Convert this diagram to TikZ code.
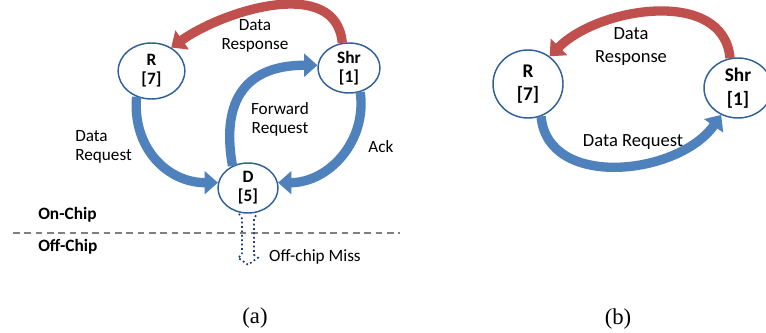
\documentclass[tikz,border=0pt]{standalone}
\usepackage{fontspec}
\setmainfont{Carlito}
\newfontfamily\timesfont{Liberation Serif}
\usetikzlibrary{calc}
\usetikzlibrary{arrows.meta}
\usetikzlibrary{shapes.geometric}

\definecolor{arrblue}{HTML}{4F81BD}
\definecolor{arrred}{HTML}{C0504D}
\definecolor{circblue}{HTML}{30609A}
\definecolor{missblue}{HTML}{1F3C7A}

\begin{document}
\begin{tikzpicture}[x=0.75pt,y=0.75pt,
  cache/.style={ellipse,draw=circblue,line width=1.1pt,fill=white,inner sep=0pt,
    align=center,font=\bfseries\fontsize{13}{14.3}\selectfont},
  cacheb/.style={cache,font=\bfseries\fontsize{14.5}{17.5}\selectfont},
  lbl/.style={align=center,inner sep=0pt,font=\fontsize{12.9}{14.3}\selectfont},
  lblb/.style={lbl,font=\fontsize{13.9}{17.5}\selectfont},
  flowblue/.style={draw=arrblue,line width=7pt,-{Triangle[width=17pt,length=10pt]}},
  flowred/.style={draw=arrred,line width=7pt,-{Triangle[width=17pt,length=10pt]}}]

\useasboundingbox (0,0) rectangle (766,332);

%partie (a)
\node[cache,minimum width=50pt,minimum height=42pt] (Ra) at (151.5,261) {R\\{[7]}};
\node[cache,minimum width=46.5pt,minimum height=37.5pt] (Sa) at (349,264) {Shr\\{[1]}};
\node[cache,minimum width=45pt,minimum height=37.5pt] (Da) at (248,144) {D\\{[5]}};

% fleches (a)
\draw[flowred] (Sa.105) to[out=95,in=35] (Ra.50);
\draw[flowblue] (Ra.240) to[out=-95,in=180,looseness=1.1] (Da.170);
\draw[flowblue] (Da.125) to[out=100,in=180,looseness=1.35] (Sa.175);
\draw[flowblue] (Sa.295) to[out=-82,in=0,looseness=1.05] (Da.10);

% textes (a)
\node[lbl] (respa) at (255,296.5) {Data\\Response};
\node[lbl] (fwda) at (280,213) {Forward\\Request};
\node[lbl,align=left,anchor=west] (reqa) at (75,185.5) {Data\\Request};
\node[lbl] (acka) at (381,185) {Ack};

% limite puce
\coordinate (lg) at (13,99);
\coordinate (ld) at (400,99);
\draw[gray,line width=0.8pt,dash pattern=on 5pt off 3.5pt] (lg) -- (ld);
\node[lbl,anchor=west,font=\bfseries\fontsize{13}{15}\selectfont] (onchip) at (38,117) {On-Chip};
\node[lbl,anchor=west,font=\bfseries\fontsize{13}{15}\selectfont] (offchip) at (38,85) {Off-Chip};

% defaut hors puce
\draw[missblue,line width=1.3pt,dotted]
  ($(Da.south)+(-9,0)$) -- ($(Da.south)+(-6,-5)$) -- ($(Da.south)+(-6,-41)$)
  -- ($(Da.south)+(-10,-44)$) -- ($(Da.south)+(0,-51)$) -- ($(Da.south)+(10,-44)$)
  -- ($(Da.south)+(6,-41)$) -- ($(Da.south)+(6,-5)$) -- ($(Da.south)+(9,0)$);
\node[lbl] (miss) at (315,75) {Off-chip Miss};

\node[font=\timesfont\fontsize{17}{20}\selectfont] (capa) at (255,14) {(a)};

%partie (b)
\node[cacheb,minimum width=52.5pt,minimum height=51pt] (Rb) at (528,248) {R\\{[7]}};
\node[cacheb,minimum width=51pt,minimum height=45pt] (Sb) at (738,244) {Shr\\{[1]}};

\draw[flowred] (Sb.105) to[out=95,in=45] (Rb.52);
\draw[flowblue] (Rb.292) to[out=-85,in=-125,looseness=1.05] (Sb.238);

\node[lblb] (respb) at (631,285.5) {Data\\Response};
\node[lblb] (reqb) at (633,190) {Data Request};

\node[font=\timesfont\fontsize{17}{20}\selectfont] (capb) at (618,13) {(b)};

\end{tikzpicture}
\end{document}
